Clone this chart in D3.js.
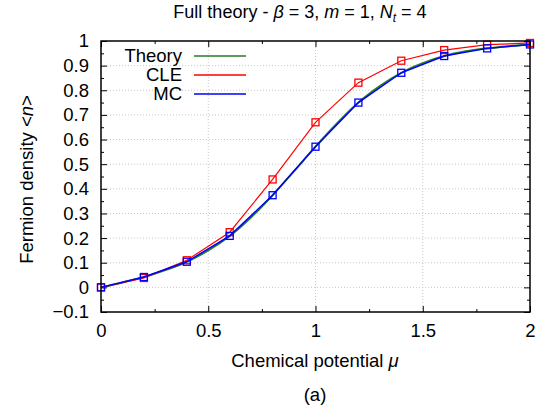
<!DOCTYPE html>
<html><head><meta charset="utf-8">
<script src="https://cdn.jsdelivr.net/npm/d3@7"></script>
<style>body{margin:0;background:#fff}svg{display:block}text{font-family:"Liberation Sans",Arial,sans-serif;fill:#000}</style>
</head><body>
<script>
const mu = [0,0.2,0.4,0.6,0.8,1.0,1.2,1.4,1.6,1.8,2.0];
const mcValues = [0,0.042,0.104,0.209,0.374,0.571,0.750,0.871,0.939,0.970,0.986];
const cleValues = [0,0.038,0.110,0.224,0.438,0.670,0.831,0.920,0.963,0.985,0.992];
const theoryMu = [0,0.1,0.2,0.3,0.4,0.5,0.6,0.7,0.8,0.9,1.0,1.1,1.2,1.3,1.4,1.5,1.6,1.7,1.8,1.9,2.0];
const theoryValues = [0,0.02,0.042,0.07,0.104,0.15,0.209,0.285,0.374,0.472,0.571,0.665,0.750,0.817,0.871,0.910,0.939,0.958,0.970,0.979,0.986];
const xTicks = [0,0.5,1,1.5,2];
const yTicks = [-0.1,0,0.1,0.2,0.3,0.4,0.5,0.6,0.7,0.8,0.9,1];

const W=549,H=415;
const L=101,R=530,T=41,B=312;
const svg=d3.select("body").append("svg").attr("width",W).attr("height",H);
const x=d3.scaleLinear().domain([0,2]).range([L,R]);
const y=d3.scaleLinear().domain([-0.1,1]).range([B,T]);

// grid
const g=svg.append("g");
g.selectAll(".gx").data(xTicks.slice(1,-1)).enter().append("line")
 .attr("x1",d=>x(d)).attr("x2",d=>x(d)).attr("y1",T).attr("y2",B)
 .attr("stroke","#c8c8c8").attr("stroke-width",1).attr("stroke-dasharray","1,2");
g.selectAll(".gy").data(yTicks.slice(1,-1)).enter().append("line")
 .attr("y1",d=>y(d)).attr("y2",d=>y(d)).attr("x1",L).attr("x2",R)
 .attr("stroke","#c8c8c8").attr("stroke-width",1).attr("stroke-dasharray","1,2");

// axes
const fs=18.5;
const xAxB=d3.axisBottom(x).tickValues(xTicks).tickSizeInner(-6).tickSizeOuter(0).tickPadding(12).tickFormat(d3.format("~g"));
const xAxT=d3.axisTop(x).tickValues(xTicks).tickSizeInner(-6).tickSizeOuter(0).tickFormat("");
const yAxL=d3.axisLeft(y).tickValues(yTicks).tickSizeInner(-6).tickSizeOuter(0).tickPadding(12).tickFormat(d3.format("~g"));
const yAxR=d3.axisRight(y).tickValues(yTicks).tickSizeInner(-6).tickSizeOuter(0).tickFormat("");
const minorX=d3.range(0.25,2,0.5);
const minorY=d3.range(-0.05,1,0.1);
function styleAxis(sel){sel.select(".domain").remove();sel.selectAll("line").attr("stroke","#000").attr("stroke-width",1);sel.selectAll("text").style("font-size",fs+"px").style("font-family","Liberation Sans, Arial, sans-serif");}
svg.append("g").attr("transform",`translate(0,${B})`).call(xAxB).call(styleAxis);
svg.append("g").attr("transform",`translate(0,${T})`).call(xAxT).call(styleAxis);
svg.append("g").attr("transform",`translate(${L},0)`).call(yAxL).call(styleAxis);
svg.append("g").attr("transform",`translate(${R},0)`).call(yAxR).call(styleAxis);
svg.append("g").attr("transform",`translate(0,${B})`).call(d3.axisBottom(x).tickValues(minorX).tickSizeInner(-3).tickSizeOuter(0).tickFormat("")).call(styleAxis);
svg.append("g").attr("transform",`translate(0,${T})`).call(d3.axisTop(x).tickValues(minorX).tickSizeInner(-3).tickSizeOuter(0).tickFormat("")).call(styleAxis);
svg.append("g").attr("transform",`translate(${L},0)`).call(d3.axisLeft(y).tickValues(minorY).tickSizeInner(-3).tickSizeOuter(0).tickFormat("")).call(styleAxis);
svg.append("g").attr("transform",`translate(${R},0)`).call(d3.axisRight(y).tickValues(minorY).tickSizeInner(-3).tickSizeOuter(0).tickFormat("")).call(styleAxis);

// data
const line=d3.line().x(d=>x(d[0])).y(d=>y(d[1]));
const theory=theoryMu.map((m,i)=>[m,theoryValues[i]]);
const cle=mu.map((m,i)=>[m,cleValues[i]]);
const mc=mu.map((m,i)=>[m,mcValues[i]]);
svg.append("path").datum(theory).attr("d",line.curve(d3.curveMonotoneX)).attr("fill","none").attr("stroke","#2a7a2a").attr("stroke-width",2);
line.curve(d3.curveLinear);
function series(data,color,sw){
 svg.append("path").datum(data).attr("d",line).attr("fill","none").attr("stroke",color).attr("stroke-width",sw);
 svg.selectAll(null).data(data).enter().append("rect")
  .attr("x",d=>x(d[0])-3.5).attr("y",d=>y(d[1])-3.5).attr("width",7).attr("height",7)
  .attr("fill","none").attr("stroke",color).attr("stroke-width",1.3);
}
series(cle,"#ff0000",1.2);
series(mc,"#0000ff",1.4);

// frame
svg.append("rect").attr("x",L).attr("y",T).attr("width",R-L).attr("height",B-T).attr("fill","none").attr("stroke","#000").attr("stroke-width",1.5);

// legend
const leg=[["Theory","#2a7a2a"],["CLE","#ff0000"],["MC","#0000ff"]];
leg.forEach((d,i)=>{
 const yy=56+i*19;
 svg.append("text").attr("x",182).attr("y",yy).attr("dy","0.35em").attr("text-anchor","end").style("font-size",fs+"px").text(d[0]);
 svg.append("line").attr("x1",194).attr("x2",246).attr("y1",yy).attr("y2",yy).attr("stroke",d[1]).attr("stroke-width",1.3);
});

// title
const t=svg.append("text").attr("x",300).attr("y",18).attr("text-anchor","middle").style("font-size","18px");
t.append("tspan").text("Full theory - ");
t.append("tspan").style("font-style","italic").text("β");
t.append("tspan").text(" = 3, ");
t.append("tspan").style("font-style","italic").text("m");
t.append("tspan").text(" = 1, ");
t.append("tspan").style("font-style","italic").text("N");
t.append("tspan").style("font-style","italic").style("font-size","12px").attr("dy",4).text("t");
t.append("tspan").attr("dy",-4).text(" = 4");

// x label
const xl=svg.append("text").attr("x",315).attr("y",367).attr("text-anchor","middle").style("font-size",fs+"px");
xl.append("tspan").text("Chemical potential ");
xl.append("tspan").style("font-style","italic").text("μ");
svg.append("text").attr("x",315).attr("y",401).attr("text-anchor","middle").style("font-size",fs+"px").text("(a)");

// y label
const yl=svg.append("text").attr("transform",`translate(33,${(T+B)/2+3}) rotate(-90)`).attr("text-anchor","middle").style("font-size",fs+"px");
yl.append("tspan").text("Fermion density <");
yl.append("tspan").style("font-style","italic").text("n");
yl.append("tspan").text(">");
</script>
</body></html>
